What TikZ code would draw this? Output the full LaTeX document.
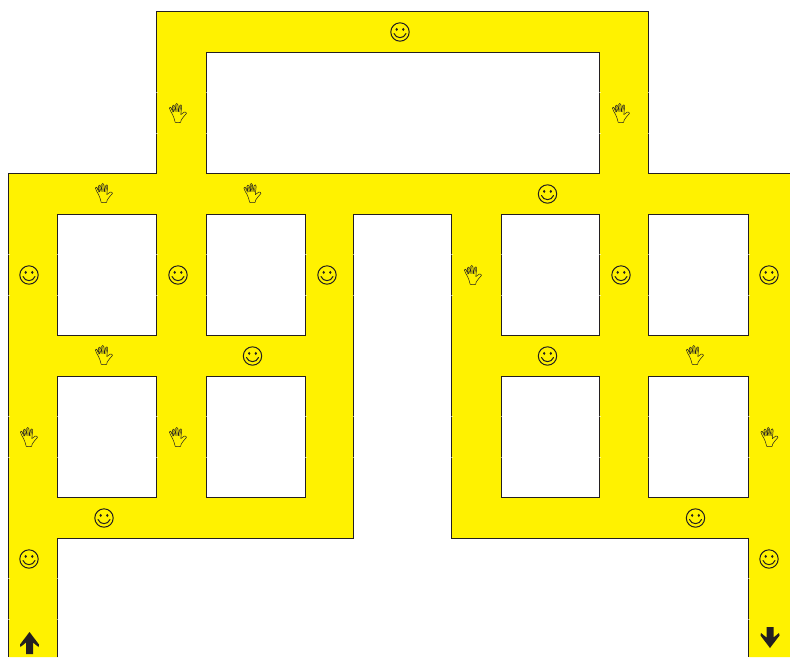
\documentclass[tikz,border=0pt]{standalone}
\definecolor{roadyellow}{HTML}{FFF200}
\definecolor{inkdark}{HTML}{231F20}
\tikzset{
  edgeline/.style={draw=inkdark,line width=0.9pt,line join=miter},
  iconline/.style={draw=inkdark,line width=0.75pt,line join=round,line cap=round},
  seamtick/.style={draw=white,line width=0.6pt,opacity=0.55},
  smiley/.pic={
    \draw[iconline,line width=1pt] (0,0) circle[radius=9.2];
    \fill[inkdark] (-3.3,-2.6) ellipse[x radius=1.25,y radius=1.6];
    \fill[inkdark] (3.3,-2.6) ellipse[x radius=1.25,y radius=1.6];
    \draw[iconline,line width=1pt] (-6,1.5) .. controls (-4,7) and (4,7) .. (6,1.5);
  },
  handicon/.pic={
    \draw[iconline,line width=0.5pt]
      (-2.8,9.4) .. controls (-3.6,6) and (-4.4,3.6) .. (-5.4,1.6)
      .. controls (-6.4,-0.6) and (-8.8,-3.4) .. (-8.6,-5)
      .. controls (-8.2,-6.4) and (-6.8,-6) .. (-6.3,-4.6)
      -- (-4.2,-1)
      -- (-5.6,-6.4)
      .. controls (-5.7,-8.2) and (-3.9,-8.6) .. (-3.4,-7)
      -- (-1.8,-1.4)
      -- (-2.3,-8.4)
      .. controls (-2.2,-10) and (-0.3,-10) .. (-0.1,-8.4)
      -- (0.5,-1.4)
      -- (1.6,-7.2)
      .. controls (2,-8.8) and (3.8,-8.4) .. (3.7,-6.8)
      -- (2.8,1.6)
      -- (6.4,-1)
      .. controls (7.4,-1.6) and (9,0) .. (8.4,0.6)
      .. controls (6.8,1.8) and (4.8,4.8) .. (3.2,7)
      -- (2.6,9.4)
      .. controls (1,9.8) and (-1.2,9.8) .. (-2.8,9.4);
    \draw[iconline,line width=0.35pt] (-7,-4.6) -- (-5,-0.8) (-4.5,-6.4) -- (-2.9,-1.4) (-1.2,-8) -- (-0.7,-1.4) (2.7,-6.6) -- (1.7,-1);
  },
}
\begin{document}
\begin{tikzpicture}[x=1pt,y=-1pt]
\useasboundingbox (0,0) rectangle (790,657);
\fill[white] (0,0) rectangle (790,657);
\begin{scope}[xshift=-0.2pt]
% yellow network with rectangular holes
\fill[roadyellow,even odd rule]
  (157,11) -- (649,11) -- (649,173) -- (791,173) -- (791,657) -- (749,657) -- (749,538)
  -- (452,538) -- (452,214) -- (354,214) -- (354,538) -- (58,538) -- (58,657) -- (9,657)
  -- (9,173) -- (157,173) -- cycle
  (207,52) rectangle (600,173)
  (58,214) rectangle (157,335) (207,214) rectangle (306,335)
  (502,214) rectangle (600,335) (649,214) rectangle (749,335)
  (58,376) rectangle (157,497) (207,376) rectangle (306,497)
  (502,376) rectangle (600,497) (649,376) rectangle (749,497);
% outlines
\draw[edgeline] (791,173) -- (649,173) -- (649,11) -- (157,11) -- (157,173) -- (9,173) -- (9,657);
\draw[edgeline] (58,657) -- (58,538) -- (354,538) -- (354,214) -- (452,214) -- (452,538) -- (749,538) -- (749,657);
\foreach \xa/\ya/\xb/\yb in {207/52/600/173,58/214/157/335,207/214/306/335,502/214/600/335,649/214/749/335,58/376/157/497,207/376/306/497,502/376/600/497,649/376/749/497}
  \draw[edgeline] (\xa,\ya) rectangle (\xb,\yb);
% seams across the outlines
\foreach \px in {157,207,600,649}
  \foreach \py in {92,133}
    \draw[seamtick] (\px-1,\py) -- (\px+1,\py);
\foreach \px in {9,58,157,207,306,354,452,502,600,649,749}
  \foreach \py in {254,295,416,457}
    \draw[seamtick] (\px-1,\py) -- (\px+1,\py);
\foreach \px in {9,58,749}
  \foreach \py in {578,619}
    \draw[seamtick] (\px-1,\py) -- (\px+1,\py);
\end{scope}
% smileys
\foreach \px/\py in {400/32,547.5/194,29/275,178/275,327/275,621/275,769/275,252.5/356,547.5/356,104/518,695.5/518,29/559,769/559}
  \pic at (\px,\py) {smiley};
% hands
\foreach \px/\py in {178/113,621/113,104/193,252.5/193,473/275,104/355,695/355,29/437,178/437,769.5/437}
  \pic at (\px,\py) {handicon};
% arrows
\fill[inkdark] (29.5,632) -- (39,644.5) -- (38.5,647) -- (33,642.5) -- (33,654) -- (26,654) -- (26,642.5) -- (20.5,647) -- (20,644.5) -- cycle;
\fill[inkdark] (770,648) -- (779.5,635.5) -- (779,633) -- (773.5,637.5) -- (773.5,627) -- (766.5,627) -- (766.5,637.5) -- (761,633) -- (760.5,635.5) -- cycle;
\end{tikzpicture}
\end{document}
